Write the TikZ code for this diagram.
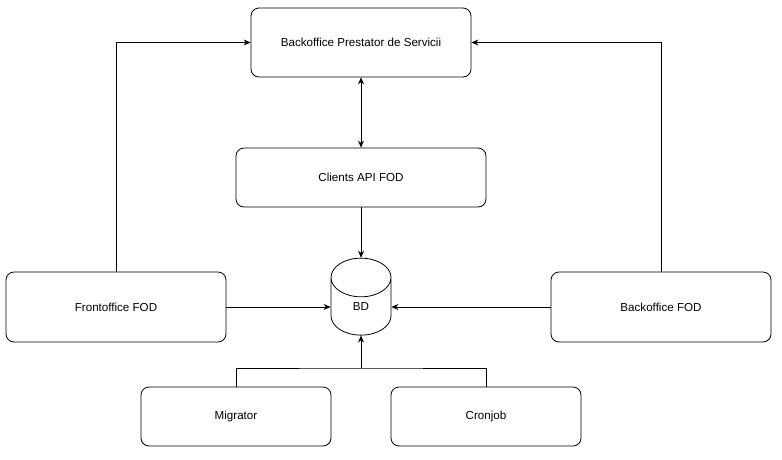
\documentclass[tikz,border=0pt]{standalone}
\usepackage{fontspec}
\setmainfont{Liberation Sans}
\usetikzlibrary{shapes.geometric,arrows.meta}
\begin{document}
\begin{tikzpicture}[x=1pt,y=-1pt,
  box/.style={draw,rounded corners=8pt,line width=0.8pt,align=center,font=\fontsize{11.6}{13}\selectfont},
  con/.style={draw,line width=0.8pt,-{Stealth[length=7pt,width=6pt]}}]
\useasboundingbox (0,0) rectangle (782,459);
\node[box,minimum width=220pt,minimum height=69pt] (bp) at (361,42.5) {Backoffice Prestator de Servicii};
\node[box,minimum width=250pt,minimum height=59pt] (api) at (361,177.5) {Clients API FOD};
\node[box,minimum width=220pt,minimum height=70pt] (fo) at (116,307) {Frontoffice FOD};
\node[box,minimum width=220pt,minimum height=70pt] (bo) at (661,307) {Backoffice FOD};
\node[box,minimum width=190pt,minimum height=59pt] (mig) at (236,416.5) {Migrator};
\node[box,minimum width=190pt,minimum height=59pt] (cron) at (486,416.5) {Cronjob};
\node[draw,line width=0.8pt,cylinder,shape border rotate=90,aspect=2.4,minimum width=60pt,minimum height=77pt,inner sep=0pt,font=\fontsize{11.6}{13}\selectfont] (bd) at (361,306.5) {BD};
\draw[con,{Stealth[length=7pt,width=6pt]}-{Stealth[length=7pt,width=6pt]}] (bp) -- (api);
\draw[con] (api) -- (bd.top);
\draw[con] (fo) -- (fo -| bd.west);
\draw[con] (bo) -- (bo -| bd.east);
\draw[con] (fo.north) |- (bp.west);
\draw[con] (bo.north) |- (bp.east);
\coordinate (j) at (361,368);
\draw[line width=0.8pt] (mig.north) |- (j) -| (cron.north);
\draw[con] (j) -- (bd.bottom);
\end{tikzpicture}
\end{document}
